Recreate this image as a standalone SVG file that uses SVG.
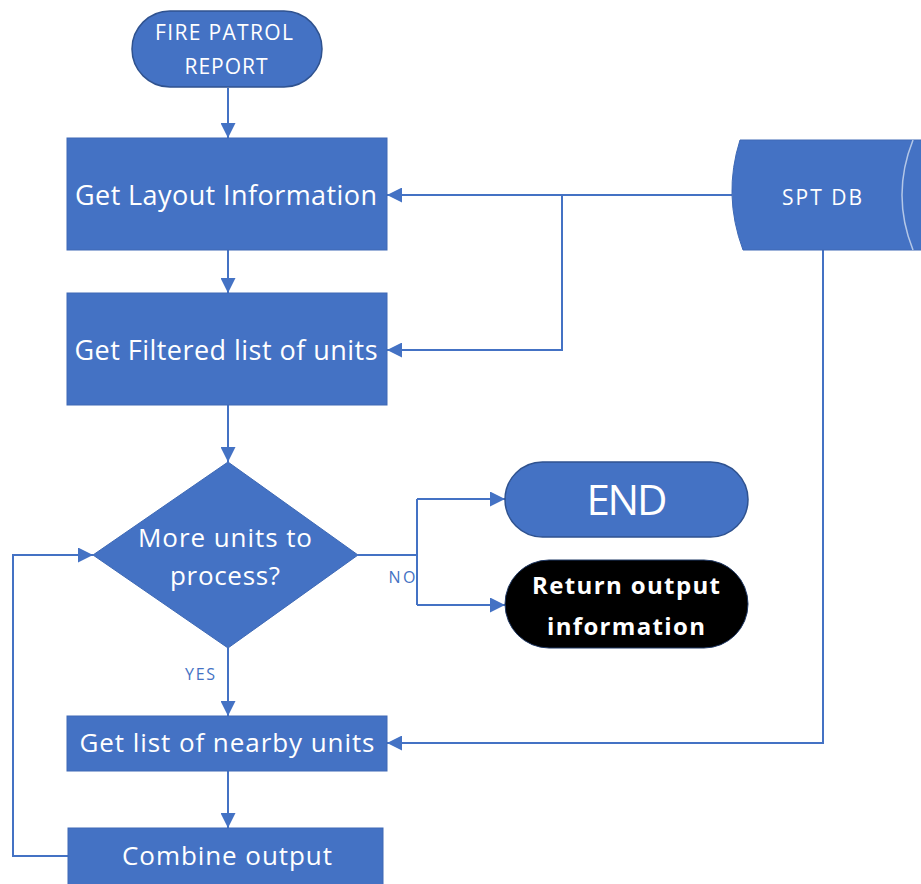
<svg xmlns="http://www.w3.org/2000/svg" width="921" height="884" viewBox="0 0 921 884">
<style>
.box{fill:#4472C4;stroke:#3E69B5;stroke-width:1}
.pill{fill:#4472C4;stroke:#2F528F;stroke-width:1.5}
.t{font-family:"Open Sans","Liberation Sans",sans-serif;fill:#FFFFFF;text-anchor:middle}
.lbl{font-family:"Open Sans","Liberation Sans",sans-serif;fill:#4472C4;text-anchor:middle}
.c{fill:none;stroke:#4472C4;stroke-width:2}
</style>
<defs>
<marker id="ah" viewBox="0 0 10 10" refX="10" refY="5" markerWidth="15" markerHeight="15" markerUnits="userSpaceOnUse" orient="auto">
<path d="M0,0 L10,5 L0,10 z" fill="#4472C4"/>
</marker>
</defs>
<rect width="921" height="884" fill="#FFFFFF"/>
<g id="connectors">
<line class="c" x1="228" y1="88" x2="228" y2="138" marker-end="url(#ah)"/>
<line class="c" x1="228" y1="250" x2="228" y2="293" marker-end="url(#ah)"/>
<line class="c" x1="228" y1="405" x2="228" y2="462" marker-end="url(#ah)"/>
<line class="c" x1="228" y1="648" x2="228" y2="716" marker-end="url(#ah)"/>
<line class="c" x1="228" y1="771" x2="228" y2="828" marker-end="url(#ah)"/>
<line class="c" x1="732" y1="195" x2="387" y2="195" marker-end="url(#ah)"/>
<polyline class="c" points="562,195 562,350 387,350" marker-end="url(#ah)"/>
<polyline class="c" points="823,250 823,743 387,743" marker-end="url(#ah)"/>
<polyline class="c" points="358,555 417,555"/>
<polyline class="c" points="417,499 417,605"/>
<line class="c" x1="417" y1="499" x2="505" y2="499" marker-end="url(#ah)"/>
<line class="c" x1="417" y1="605" x2="505" y2="605" marker-end="url(#ah)"/>
<polyline class="c" points="68,856 13,856 13,555 93,555" marker-end="url(#ah)"/>
<text class="lbl" x="402" y="583" font-size="16" textLength="27">NO</text>
<text class="lbl" x="200" y="680" font-size="16" textLength="30">YES</text>
</g>
<g id="start">
<rect class="pill" x="132" y="11" width="190" height="76" rx="38"/>
<text class="t" x="224" y="40" font-size="21" textLength="138">FIRE PATROL</text>
<text class="t" x="226" y="74" font-size="21" textLength="83">REPORT</text>
</g>
<g id="layout">
<rect class="box" x="67" y="138" width="320" height="112"/>
<text class="t" x="226" y="205" font-size="27" textLength="302">Get Layout Information</text>
</g>
<g id="filtered">
<rect class="box" x="67" y="293" width="320" height="112"/>
<text class="t" x="226" y="360" font-size="27" textLength="303">Get Filtered list of units</text>
</g>
<g id="decision">
<polygon points="228,462 358,555 228,648 93,555" fill="#4472C4" stroke="#3E69B5" stroke-width="1"/>
<text class="t" x="225" y="547" font-size="26" textLength="174">More units to</text>
<text class="t" x="225" y="585" font-size="26" textLength="110">process?</text>
</g>
<g id="end">
<rect class="pill" x="505" y="462" width="243" height="75" rx="37.5"/>
<text class="t" x="627" y="515" font-size="42" textLength="81">END</text>
</g>
<g id="return">
<rect x="505" y="560" width="243" height="88" rx="44" fill="#000000" stroke="#1F3864" stroke-width="1"/>
<text class="t" x="626" y="594" font-size="24" font-weight="bold" textLength="188">Return output</text>
<text class="t" x="626" y="635" font-size="24" font-weight="bold" textLength="158">information</text>
</g>
<g id="nearby">
<rect class="box" x="67" y="716" width="320" height="55"/>
<text class="t" x="227" y="752" font-size="26" textLength="295">Get list of nearby units</text>
</g>
<g id="combine">
<rect class="box" x="68" y="828" width="315" height="60"/>
<text class="t" x="227" y="865" font-size="26" textLength="210">Combine output</text>
</g>
<g id="sptdb">
<path d="M740,140 L930,140 L930,250 L743,250 Q722.5,195 740,140 Z" fill="#4472C4" stroke="#3E69B5" stroke-width="1"/>
<path d="M913,140 Q891,195 913,250" fill="none" stroke="#B4C7E7" stroke-width="1.5"/>
<text class="t" x="822" y="205" font-size="21" textLength="80">SPT DB</text>
</g>
</svg>
